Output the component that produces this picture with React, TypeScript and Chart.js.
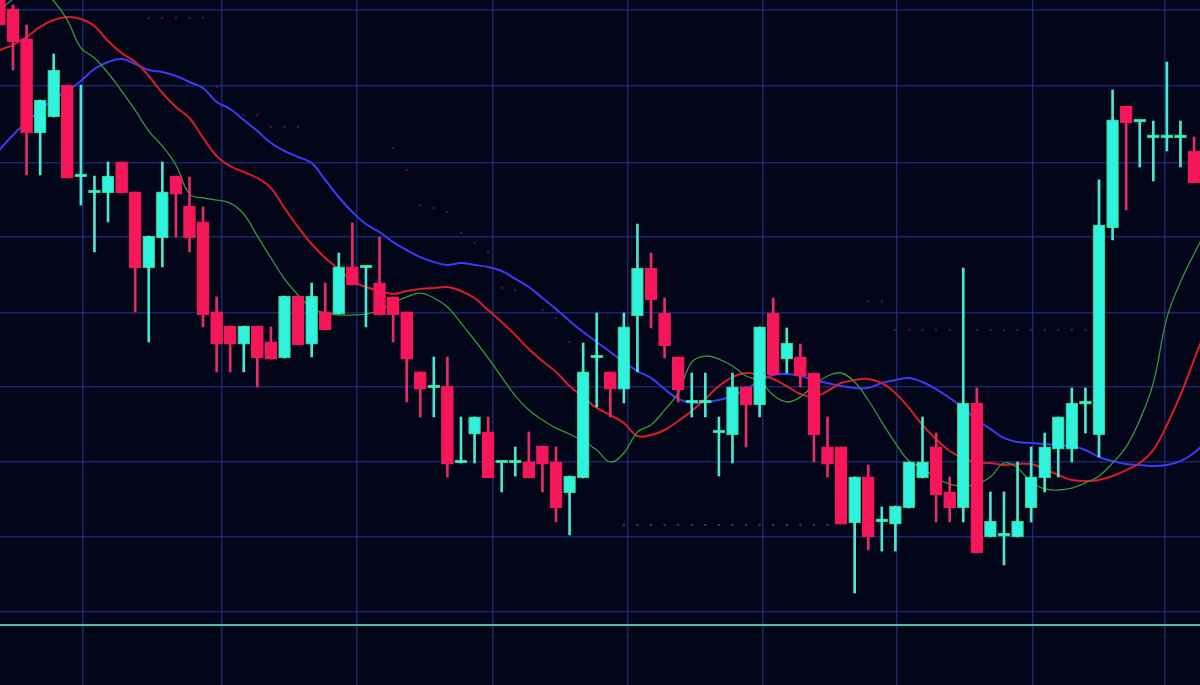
import React, { useEffect, useRef } from "react";
import { Chart, registerables } from "chart.js";

Chart.register(...registerables);

// Candles (price units), one per session
const OPEN = [
  101.33, 100.07, 98.07, 91.8, 92.87, 95.0, 88.87, 87.8, 87.8, 89.87,
  87.87, 82.8, 84.8, 88.93, 86.93, 85.87, 79.87, 78.93, 77.73, 78.93,
  77.87, 76.8, 80.93, 77.73, 79.87, 79.73, 82.87, 82.8, 81.8, 80.87,
  79.87, 75.87, 74.8, 74.93, 69.8, 71.73, 71.87, 69.8, 69.8, 69.87,
  70.93, 69.87, 67.8, 68.8, 76.8, 75.87, 74.73, 79.6, 82.8, 79.8,
  76.87, 73.8, 73.8, 71.8, 71.67, 74.87, 73.67, 79.8, 76.73, 76.87,
  75.8, 70.87, 70.87, 65.8, 68.87, 65.87, 65.73, 66.8, 68.8, 70.87,
  67.87, 66.8, 73.8, 64.87, 64.93, 64.87, 66.8, 68.8, 70.73, 70.73,
  73.73, 71.67, 85.47, 93.6, 92.53, 91.47, 91.47, 91.47, 90.6,
];
const HIGH = [
  102.0, 100.33, 99.0, 94.0, 97.07, 95.0, 95.0, 88.93, 89.87, 89.87,
  87.87, 84.93, 89.87, 88.93, 88.87, 86.87, 80.87, 78.93, 78.93, 78.93,
  78.87, 80.93, 80.93, 81.8, 81.8, 83.8, 85.8, 82.87, 84.87, 80.87,
  79.87, 75.87, 76.87, 76.87, 72.87, 72.87, 72.87, 69.8, 70.87, 71.87,
  70.93, 70.87, 68.93, 77.8, 79.8, 75.87, 79.8, 85.73, 83.8, 80.8,
  76.87, 75.8, 75.8, 72.87, 75.8, 74.87, 78.87, 80.8, 78.8, 77.73,
  75.8, 72.87, 70.87, 68.87, 69.67, 66.87, 66.93, 69.87, 72.87, 71.8,
  68.87, 82.8, 74.8, 67.87, 67.87, 69.87, 70.87, 71.8, 72.87, 74.8,
  74.8, 88.67, 94.67, 93.6, 92.53, 92.6, 96.53, 92.6, 91.53,
];
const LOW = [
  99.0, 96.0, 89.0, 89.0, 92.87, 88.8, 87.0, 83.87, 85.87, 87.8,
  79.87, 77.87, 82.87, 84.87, 83.87, 78.87, 75.87, 75.87, 75.87, 74.87,
  76.73, 76.8, 77.67, 76.87, 78.67, 79.73, 81.67, 78.87, 79.67, 77.87,
  73.87, 72.87, 72.87, 68.87, 69.8, 69.8, 68.8, 67.87, 68.93, 68.8,
  67.87, 65.87, 65.0, 68.8, 73.53, 72.87, 73.8, 75.87, 78.8, 76.8,
  73.87, 72.87, 72.87, 68.93, 69.8, 70.87, 72.87, 75.67, 75.8, 74.87,
  69.87, 68.87, 65.73, 61.13, 64.0, 63.93, 63.93, 66.8, 68.8, 65.87,
  65.87, 65.87, 63.8, 64.87, 63.0, 64.87, 65.87, 67.87, 68.87, 69.87,
  71.8, 70.2, 84.67, 86.67, 89.53, 88.6, 90.6, 89.53, 88.47,
];
const CLOSE = [
  99.0, 97.87, 91.8, 94.0, 96.0, 88.8, 88.87, 87.8, 88.93, 87.8,
  82.8, 84.93, 87.87, 87.73, 84.8, 79.67, 77.73, 77.73, 78.93, 76.8,
  76.73, 80.93, 77.67, 80.93, 78.67, 82.87, 81.67, 82.87, 79.67, 79.67,
  76.73, 74.73, 74.8, 69.73, 69.8, 72.87, 68.8, 69.8, 69.8, 68.8,
  69.73, 66.8, 68.93, 75.87, 76.8, 74.73, 78.87, 82.8, 80.67, 77.6,
  74.67, 73.8, 73.8, 71.8, 74.87, 73.67, 78.87, 75.67, 77.8, 75.6,
  71.67, 69.73, 65.73, 68.87, 64.87, 65.87, 66.93, 69.87, 69.87, 67.67,
  66.8, 73.8, 63.8, 65.93, 64.93, 65.93, 68.87, 70.87, 72.87, 73.8,
  73.73, 85.67, 92.67, 92.47, 92.53, 91.47, 91.47, 91.47, 88.47,
];

// Moving averages (one value per session, last one just past the right edge)
const MA_FAST = [
  100.0, 100.73, 101.47, 101.33, 100.6, 99.33, 97.47, 96.8, 95.8, 94.6,
  93.33, 91.93, 90.93, 89.67, 87.73, 87.47, 87.33, 87.13, 86.4, 84.93,
  83.47, 82.07, 81.0, 80.13, 79.8, 79.67, 79.67, 79.73, 80.0, 80.47,
  80.87, 81.13, 80.8, 80.2, 79.13, 78.0, 76.8, 75.53, 74.27, 73.33,
  72.67, 72.13, 71.73, 71.27, 70.67, 69.87, 70.47, 71.87, 72.33, 73.33,
  74.47, 76.53, 76.93, 76.73, 76.27, 75.6, 75.27, 74.33, 73.87, 74.2,
  75.0, 75.6, 75.8, 75.2, 74.0, 72.53, 71.13, 69.93, 69.47, 68.8,
  68.4, 68.27, 68.4, 68.87, 69.8, 69.47, 68.53, 68.07, 68.0, 68.13,
  68.47, 68.93, 69.8, 70.87, 72.67, 75.13, 79.47, 81.87, 83.73, 85.47,
];
const MA_MID = [
  97.33, 97.67, 98.2, 98.87, 99.33, 99.53, 99.4, 98.93, 97.93, 97.13,
  96.53, 95.6, 94.47, 93.53, 92.8, 91.47, 90.27, 89.6, 89.2, 88.8,
  88.13, 86.8, 85.53, 84.4, 83.47, 82.73, 81.93, 81.53, 81.27, 81.07,
  81.27, 81.4, 81.47, 81.53, 81.27, 80.8, 80.0, 79.2, 78.33, 77.4,
  76.6, 75.87, 74.93, 74.2, 73.47, 73.0, 72.47, 71.6, 71.67, 72.0,
  72.6, 73.27, 74.07, 74.93, 75.53, 75.8, 75.67, 75.4, 74.93, 74.4,
  74.2, 74.6, 75.13, 75.33, 75.4, 75.13, 74.47, 73.47, 72.33, 71.4,
  70.6, 70.13, 69.8, 69.8, 69.67, 69.73, 69.73, 69.4, 69.0, 68.67,
  68.6, 68.67, 68.93, 69.33, 69.8, 70.67, 72.33, 74.33, 76.67, 79.0,
];
const MA_SLOW = [
  90.67, 91.67, 92.53, 93.33, 94.07, 94.6, 95.27, 96.07, 96.53, 96.73,
  96.4, 96.0, 95.87, 95.6, 95.2, 94.8, 93.87, 93.4, 92.67, 91.93,
  91.13, 90.6, 90.2, 89.8, 88.67, 87.53, 86.53, 85.73, 85.2, 84.53,
  84.0, 83.53, 83.2, 83.0, 83.13, 83.0, 82.87, 82.6, 82.07, 81.53,
  80.8, 80.07, 79.27, 78.53, 77.87, 77.2, 76.53, 75.93, 75.47, 74.73,
  74.07, 73.8, 73.87, 74.0, 74.27, 74.73, 75.27, 75.67, 75.73, 75.6,
  75.33, 75.13, 74.93, 74.8, 74.8, 75.13, 75.33, 75.47, 75.2, 74.73,
  74.13, 73.47, 72.67, 72.07, 71.47, 71.2, 71.13, 71.07, 71.0, 70.93,
  70.67, 70.2, 69.93, 69.73, 69.67, 69.6, 69.67, 69.93, 70.47, 71.33,
];

// Faint stop levels (dotted), one value per session or null
const STOP_SELL = [
  null, null, null, null, null, null, null, null, null, null,
  null, 99.47, 99.47, 99.47, 99.47, 99.47, 94.87, null, 93.0, 93.0,
  92.2, 92.2, 92.2, null, null, null, null, null, null, 90.8,
  89.33, 87.0, 86.8, 86.53, 85.13, 84.47, 83.87, 81.47, 81.33, null,
  80.0, 79.47, 77.87, null, null, null, null, null, null, null,
  null, null, null, null, null, null, null, null, null, null,
  null, null, null, null, 80.6, 80.6, 78.67, 78.67, 78.67, 78.67,
  78.67, 78.67, 78.67, 78.67, 78.67, 78.67, 78.67, 78.67, 78.67, 78.67,
  78.67, null, null, null, null, null, null, null, null,
];
const STOP_BUY = [
  null, null, null, null, null, null, null, null, null, null,
  null, null, null, null, null, null, null, null, null, null,
  null, null, null, null, null, null, null, null, null, null,
  null, null, null, null, null, null, null, null, null, null,
  null, null, null, null, null, null, 65.67, 65.67, 65.67, 65.67,
  65.67, 65.67, 65.67, 65.67, 65.67, 65.67, 65.67, 65.67, 65.67, 65.67,
  65.67, 65.67, null, null, null, null, null, null, null, null,
  null, null, null, null, null, null, null, null, null, null,
  null, null, null, null, null, null, null, null, null,
];

const BASE_LEVEL = 59.0;

// Axis ranges and grid ticks (session index / price)
const X_RANGE = [0.042, 88.44];
const Y_RANGE = [55.0, 100.667];
const X_GRID = [6.16, 16.4, 26.34, 36.36, 46.3, 56.25, 66.12, 76.14, 85.86];
const Y_GRID = [59.87, 64.87, 69.87, 74.87, 79.8, 84.87, 89.8, 94.93, 100.0];

const CYAN = "#2ff2df";
const CYAN_EDGE = "rgba(80,255,140,0.75)";
const CYAN_WICK = "#4fe6cf";
const RED = "#f5175a";
const RED_WICK = "#e22d66";

export default function App() {
  const canvasRef = useRef<HTMLCanvasElement | null>(null);

  useEffect(() => {
    const canvas = canvasRef.current;
    if (!canvas) return;
    const idx = OPEN.map((_, i) => i);
    const bull = (i: number) => CLOSE[i] >= OPEN[i];

    const chart = new Chart(canvas, {
      type: "bar",
      data: {
        datasets: [
          {
            type: "bar",
            label: "body",
            data: idx.map((i) => ({ x: i, y: [OPEN[i], CLOSE[i]] })) as any,
            backgroundColor: idx.map((i) => (bull(i) ? CYAN : RED)),
            borderColor: idx.map((i) => (bull(i) ? CYAN_EDGE : RED)),
            borderWidth: 1,
            borderSkipped: false,
            barThickness: 12,
            minBarLength: 3,
            grouped: false,
            order: 0,
          } as any,
          {
            type: "bar",
            label: "wick",
            data: idx.map((i) => ({ x: i, y: [LOW[i], HIGH[i]] })) as any,
            backgroundColor: idx.map((i) => (bull(i) ? CYAN_WICK : RED_WICK)),
            borderWidth: 0,
            barThickness: 2,
            grouped: false,
            order: 1,
          } as any,
          {
            type: "line",
            label: "slow",
            data: MA_SLOW.map((v, i) => ({ x: i, y: v })),
            borderColor: "#3a3cf6",
            borderWidth: 2,
            pointRadius: 0,
            tension: 0.4,
            order: 4,
          } as any,
          {
            type: "line",
            label: "mid",
            data: MA_MID.map((v, i) => ({ x: i, y: v })),
            borderColor: "#d91c2a",
            borderWidth: 2,
            pointRadius: 0,
            tension: 0.4,
            order: 3,
          } as any,
          {
            type: "line",
            label: "fast",
            data: MA_FAST.map((v, i) => ({ x: i, y: v })),
            borderColor: "#3a9440",
            borderWidth: 1.3,
            pointRadius: 0,
            tension: 0.4,
            order: 2,
          } as any,
          {
            type: "line",
            label: "stopSell",
            data: STOP_SELL.map((v, i) => ({ x: i, y: v })),
            showLine: false,
            pointRadius: 1.5,
            pointStyle: "rect",
            pointBackgroundColor: "rgba(170,25,55,0.55)",
            pointBorderWidth: 0,
            order: 6,
          } as any,
          {
            type: "line",
            label: "stopBuy",
            data: STOP_BUY.map((v, i) => ({ x: i, y: v })),
            showLine: false,
            pointRadius: 1.5,
            pointStyle: "rect",
            pointBackgroundColor: "rgba(40,140,80,0.55)",
            pointBorderWidth: 0,
            order: 6,
          } as any,
          {
            type: "line",
            label: "base",
            data: [
              { x: 0, y: BASE_LEVEL },
              { x: 89, y: BASE_LEVEL },
            ],
            borderColor: "rgba(90,225,190,0.85)",
            borderWidth: 2,
            pointRadius: 0,
            order: 7,
          } as any,
        ],
      },
      options: {
        animation: false,
        responsive: true,
        maintainAspectRatio: false,
        layout: { padding: 0, autoPadding: false },
        plugins: {
          legend: { display: false },
          tooltip: { enabled: false },
        },
        scales: {
          x: {
            type: "linear",
            min: X_RANGE[0],
            max: X_RANGE[1],
            offset: false,
            ticks: { display: false },
            border: { display: false },
            grid: {
              color: "rgba(38,58,160,0.6)",
              lineWidth: 1.5,
              drawTicks: false,
              offset: false,
            },
            afterBuildTicks: (axis: any) => {
              axis.ticks = X_GRID.map((v) => ({ value: v }));
            },
          },
          y: {
            type: "linear",
            min: Y_RANGE[0],
            max: Y_RANGE[1],
            ticks: { display: false },
            border: { display: false },
            grid: {
              color: "rgba(38,58,160,0.6)",
              lineWidth: 1.5,
              drawTicks: false,
            },
            afterBuildTicks: (axis: any) => {
              axis.ticks = Y_GRID.map((v) => ({ value: v }));
            },
          },
        },
      } as any,
    });

    return () => chart.destroy();
  }, []);

  return (
    <div
      style={{
        position: "absolute",
        left: 0,
        top: 0,
        width: 1200,
        height: 685,
        background: "#030619",
        overflow: "hidden",
      }}
    >
      <canvas ref={canvasRef} style={{ display: "block" }} />
    </div>
  );
}
